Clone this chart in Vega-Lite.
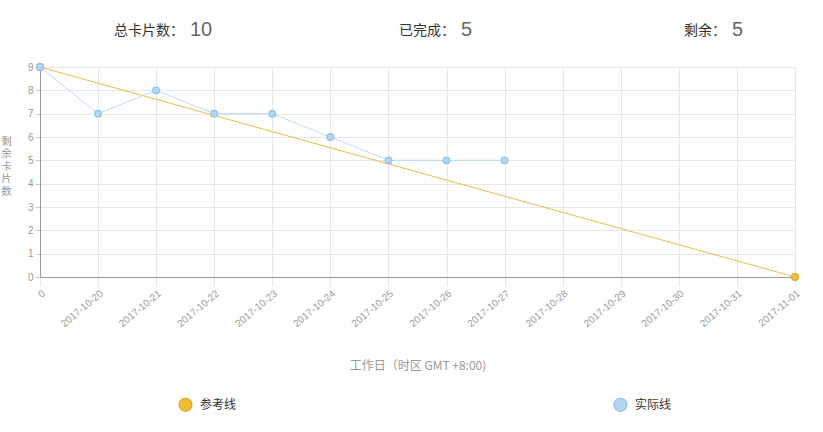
{
  "$schema": "https://vega.github.io/schema/vega-lite/v6.json",
  "padding": 0,
  "bounds": "flush",
  "spacing": 7,
  "background": "white",
  "config": {
    "font": "Liberation Sans, Noto Sans CJK SC",
    "view": {"stroke": null},
    "axis": {"labelFont": "Liberation Sans, Noto Sans CJK SC", "titleFont": "Noto Sans CJK SC, Liberation Sans"}
  },
  "datasets": {
    "stats": [
      {"item": "a", "label": "总卡片数：", "num": "10"},
      {"item": "b", "label": "已完成：", "num": "5"},
      {"item": "c", "label": "剩余：", "num": "5"}
    ],
    "series": [
      {"day": "0", "series": "参考线", "remaining": 9},
      {"day": "2017-11-01", "series": "参考线", "remaining": 0},
      {"day": "0", "series": "实际线", "remaining": 9},
      {"day": "2017-10-20", "series": "实际线", "remaining": 7},
      {"day": "2017-10-21", "series": "实际线", "remaining": 8},
      {"day": "2017-10-22", "series": "实际线", "remaining": 7},
      {"day": "2017-10-23", "series": "实际线", "remaining": 7},
      {"day": "2017-10-24", "series": "实际线", "remaining": 6},
      {"day": "2017-10-25", "series": "实际线", "remaining": 5},
      {"day": "2017-10-26", "series": "实际线", "remaining": 5},
      {"day": "2017-10-27", "series": "实际线", "remaining": 5}
    ]
  },
  "vconcat": [
    {
      "width": 755,
      "height": 60,
      "data": {"name": "stats"},
      "encoding": {
        "x": {"field": "item", "type": "nominal", "axis": null, "scale": {"type": "point", "padding": 0, "range": [147, 689]}}
      },
      "layer": [
        {
          "mark": {"type": "text", "align": "right", "dx": -3, "fontSize": 14, "color": "#333333", "font": "Noto Sans CJK SC", "baseline": "middle", "dy": 1},
          "encoding": {"text": {"field": "label"}}
        },
        {
          "mark": {"type": "text", "align": "left", "dx": 3, "fontSize": 20, "color": "#666666", "font": "Liberation Sans", "baseline": "middle"},
          "encoding": {"text": {"field": "num"}}
        }
      ]
    },
    {
      "width": 755,
      "height": 210,
      "data": {"name": "series"},
      "encoding": {
        "x": {
          "field": "day",
          "type": "ordinal",
          "scale": {"type": "point", "padding": 0, "domain": ["0", "2017-10-20", "2017-10-21", "2017-10-22", "2017-10-23", "2017-10-24", "2017-10-25", "2017-10-26", "2017-10-27", "2017-10-28", "2017-10-29", "2017-10-30", "2017-10-31", "2017-11-01"]},
          "axis": {
            "title": "工作日（时区 GMT +8:00)",
            "titleColor": "#999999",
            "titleFontSize": 12,
            "titleFontWeight": "normal",
            "titlePadding": 32,
            "labelAngle": -40,
            "labelFontSize": 10,
            "labelColor": "#999999",
            "labelPadding": 2,
            "tickColor": "#e3e3e3",
            "tickSize": 9,
            "grid": true,
            "gridColor": "#e6e6e6",
            "domainColor": "#999999"
          }
        },
        "y": {
          "field": "remaining",
          "type": "quantitative",
          "scale": {"domain": [0, 9], "nice": false},
          "axis": {
            "title": ["剩", "余", "卡", "片", "数"],
            "titleAngle": 0,
            "titleAlign": "center",
            "titleBaseline": "middle",
            "titleLineHeight": 12.6,
            "titleFontSize": 10.5,
            "titleColor": "#999999",
            "titleFontWeight": "normal",
            "titleX": -34,
            "titleY": 74,
            "values": [0, 1, 2, 3, 4, 5, 6, 7, 8, 9],
            "labelFontSize": 10,
            "labelColor": "#999999",
            "labelPadding": 2,
            "tickColor": "#cccccc",
            "tickSize": 5,
            "grid": true,
            "gridColor": "#e6e6e6",
            "domainColor": "#999999"
          }
        }
      },
      "layer": [
        {
          "transform": [{"filter": "datum.series === '参考线'"}],
          "mark": {"type": "line", "color": "#ebbd45", "strokeWidth": 1},
          "encoding": {}
        },
        {
          "transform": [{"filter": "datum.series === '实际线'"}],
          "mark": {"type": "line", "color": "#b9dcf3", "strokeWidth": 1},
          "encoding": {}
        },
        {
          "mark": {"type": "point", "filled": true, "size": 45, "strokeWidth": 1.2, "opacity": 1},
          "encoding": {
            "fill": {
              "field": "series",
              "type": "nominal",
              "scale": {"domain": ["参考线", "实际线"], "range": ["#f0bf32", "#b3d7f3"]},
              "legend": {
                "title": null,
                "orient": "none",
                "legendX": 138,
                "legendY": 397,
                "direction": "horizontal",
                "symbolType": "circle",
                "symbolSize": 170,
                "symbolStrokeWidth": 1.2,
                "labelFontSize": 12,
                "labelColor": "#333333",
                "labelFont": "Noto Sans CJK SC",
                "labelOffset": 7,
                "columnPadding": 374
              }
            },
            "stroke": {
              "field": "series",
              "type": "nominal",
              "scale": {"domain": ["参考线", "实际线"], "range": ["#d9a62a", "#8fc1e6"]},
              "legend": {
                "title": null,
                "orient": "none",
                "legendX": 138,
                "legendY": 397,
                "direction": "horizontal",
                "symbolType": "circle",
                "symbolSize": 170,
                "symbolStrokeWidth": 1.2,
                "labelFontSize": 12,
                "labelColor": "#333333",
                "labelFont": "Noto Sans CJK SC",
                "labelOffset": 7,
                "columnPadding": 374
              }
            }
          }
        }
      ]
    }
  ]
}
